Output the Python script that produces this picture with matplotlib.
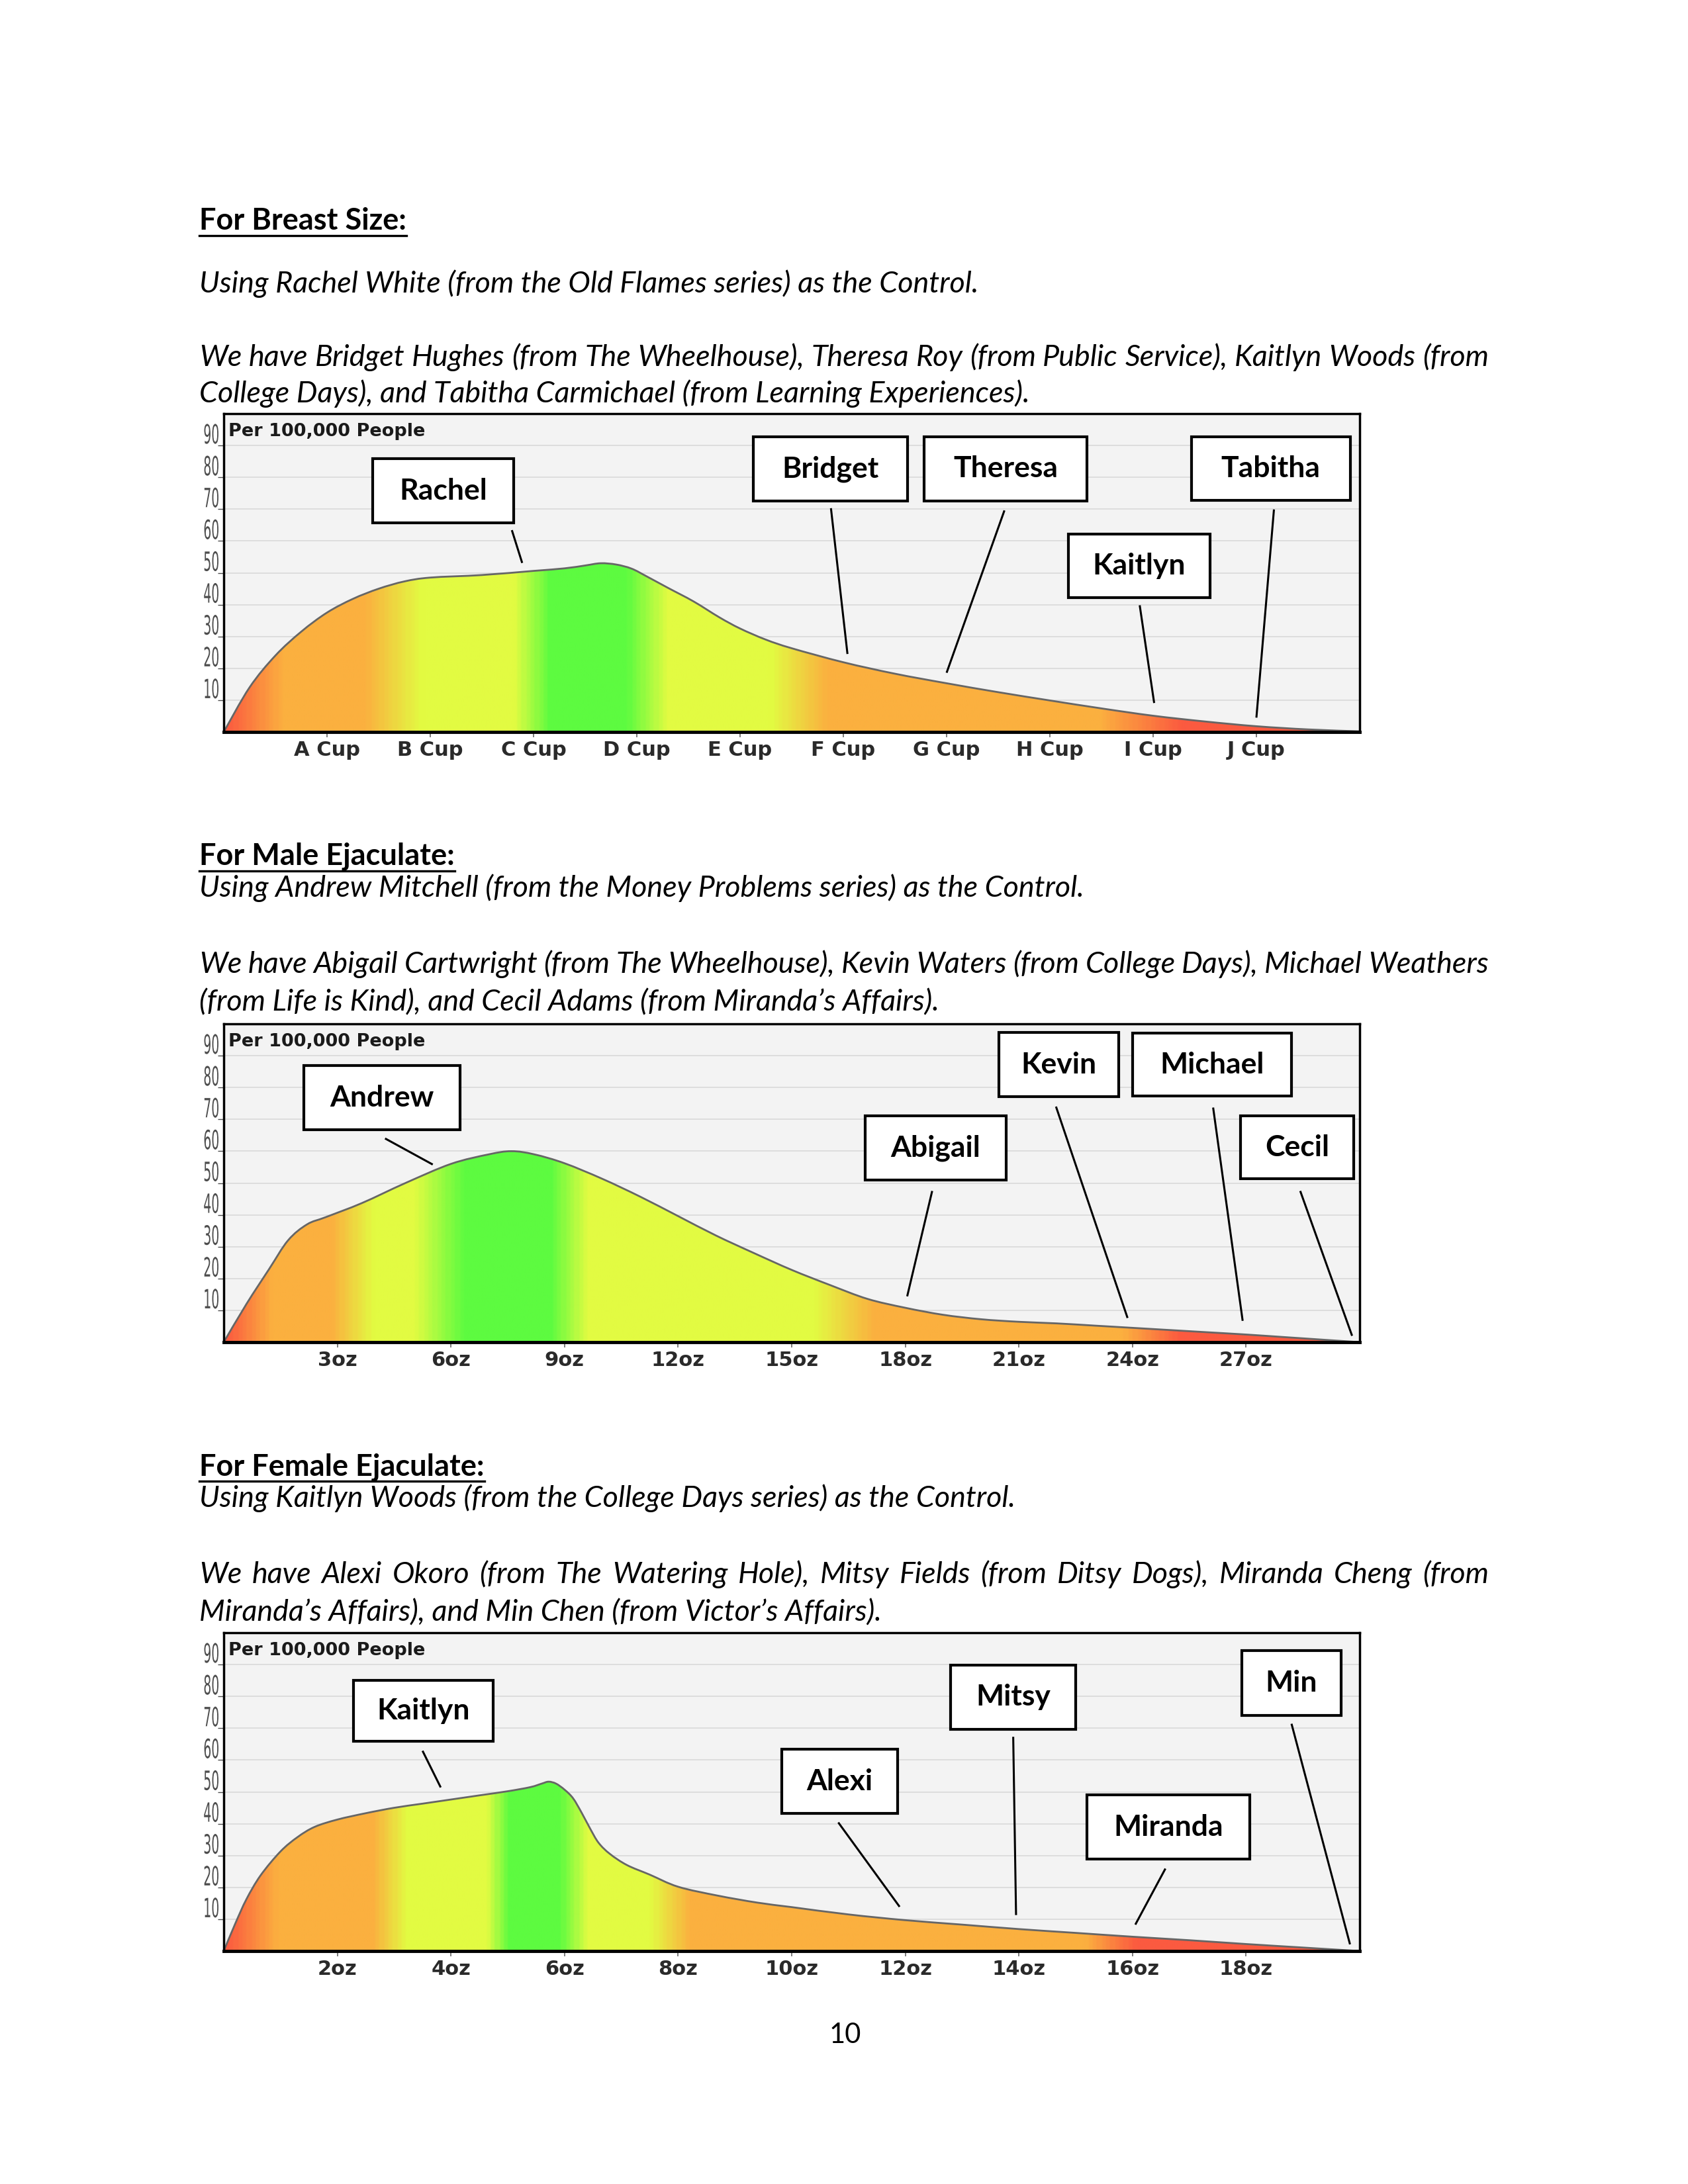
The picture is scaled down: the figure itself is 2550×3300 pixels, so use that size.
import numpy as np
import matplotlib
matplotlib.use("Agg")
import matplotlib.pyplot as plt
from matplotlib.colors import LinearSegmentedColormap
from matplotlib.patches import PathPatch, Rectangle
from matplotlib.path import Path
from matplotlib.lines import Line2D
from matplotlib.textpath import TextPath
from matplotlib.font_manager import FontProperties
from matplotlib.transforms import Affine2D, IdentityTransform

# ---- data ----
breast_x = [0, 0.25, 0.5, 0.75, 1, 1.25, 1.5, 1.75, 2, 2.5, 3, 3.3, 3.5, 3.65, 3.8, 3.95,
            4.1, 4.3, 4.55, 4.8, 5.0, 5.25, 5.5, 6, 6.5, 7, 7.5, 8, 8.5, 9, 9.5, 10, 10.5, 11]
breast_y = [0, 14, 24, 31.5, 37.5, 41.8, 45, 47.3, 48.5, 49.3, 50.6, 51.4, 52.3, 53, 52.6, 51.3,
            48.8, 45.3, 41, 36, 32.5, 29, 26.3, 21.9, 18.3, 15.3, 12.5, 9.9, 7.4, 5.1, 3.3, 1.8, 0.8, 0.2]
breast_ticks = ["A Cup", "B Cup", "C Cup", "D Cup", "E Cup", "F Cup", "G Cup", "H Cup", "I Cup", "J Cup"]

male_x = [0, 0.6, 1.2, 1.7, 2.2, 2.7, 3.65, 4.8, 6, 7, 7.6, 8.2, 9, 10, 11, 12, 13, 14, 15,
          16, 17, 18, 19, 20, 21, 22, 23, 24, 25, 26, 27, 28, 29, 30]
male_y = [0, 12, 23, 32, 37, 39.3, 43.7, 50, 56, 59, 60, 59, 56.2, 51.3, 45.7, 39.6, 33.5, 28, 22.7,
          18, 13.6, 10.8, 8.6, 7.2, 6.4, 5.9, 5.2, 4.5, 3.8, 3.1, 2.4, 1.6, 0.8, 0]
male_ticks = ["3oz", "6oz", "9oz", "12oz", "15oz", "18oz", "21oz", "24oz", "27oz"]

female_x = [0, 0.2, 0.4, 0.65, 1.0, 1.3, 1.6, 2.0, 2.5, 3.0, 3.5, 4.0, 4.5, 5.0, 5.4, 5.6, 5.72,
            5.85, 6.0, 6.15, 6.3, 6.45, 6.6, 6.8, 7.1, 7.5, 8.0, 8.7, 9.4, 10, 11, 12, 13, 14, 15,
            16, 17, 18, 19, 20]
female_y = [0, 8.5, 16.3, 23.8, 31.3, 35.8, 39, 41.3, 43.3, 45, 46.3, 47.6, 48.9, 50.2, 51.5, 52.6, 53.2,
            52.6, 50.7, 48, 43.5, 38.5, 34, 30.5, 27, 24, 20.2, 17.4, 15.2, 13.8, 11.5, 9.7, 8.3, 6.9,
            5.7, 4.5, 3.4, 2.2, 1.1, 0]
female_ticks = ["2oz", "4oz", "6oz", "8oz", "10oz", "12oz", "14oz", "16oz", "18oz"]

breast_names = ["Rachel", "Bridget", "Theresa", "Kaitlyn", "Tabitha"]
male_names = ["Andrew", "Abigail", "Kevin", "Michael", "Cecil"]
female_names = ["Kaitlyn", "Alexi", "Mitsy", "Miranda", "Min"]

# ---- layout of the callouts: box (x0, x1, y0, y1) and pointer (xa, ya, xb, yb) ----
breast_boxes = [(1.44, 2.81, 65.7, 85.8), (5.13, 6.62, 72.6, 92.7), (6.78, 8.36, 72.6, 92.7),
                (8.18, 9.55, 42.3, 62.2), (9.37, 10.91, 72.8, 92.7)]
breast_lines = [(2.79, 63.4, 2.89, 53.1), (5.88, 70.3, 6.04, 24.5), (7.56, 69.6, 7.0, 18.6),
                (8.87, 39.8, 9.01, 9.1), (10.17, 69.9, 10.0, 4.5)]
male_boxes = [(2.12, 6.24, 66.8, 86.8), (16.94, 20.66, 50.9, 71.2), (20.47, 23.63, 77.1, 97.3),
              (24.0, 28.2, 77.4, 97.0), (26.85, 29.84, 51.3, 71.1)]
male_lines = [(4.26, 64.0, 5.52, 55.8), (18.71, 47.5, 18.05, 14.4), (21.98, 74.0, 23.87, 7.6),
              (26.13, 73.7, 26.91, 6.7), (28.43, 47.5, 29.8, 2.0)]
female_boxes = [(2.28, 4.74, 65.9, 85.0), (9.82, 11.87, 43.2, 63.4), (12.8, 15.0, 69.7, 89.9),
                (15.2, 18.06, 28.8, 49.0), (17.92, 19.67, 74.0, 94.3)]
female_lines = [(3.5, 62.9, 3.82, 51.4), (10.82, 40.4, 11.9, 13.9), (13.9, 67.3, 13.95, 11.3),
                (16.58, 25.9, 16.05, 8.3), (18.8, 71.4, 19.83, 2.1)]

RED, ORANGE, YELLOW, GREEN = "#fb5a40", "#fbb03f", "#e2fb42", "#5dfb40"
breast_stops = [(0, RED), (0.55, ORANGE), (1.35, ORANGE), (1.9, YELLOW), (2.8, YELLOW), (3.15, GREEN),
                (3.9, GREEN), (4.3, YELLOW), (5.3, YELLOW), (5.85, ORANGE), (8.5, ORANGE), (9.3, RED), (11, RED)]
male_stops = [(0, RED), (1.2, ORANGE), (2.8, ORANGE), (3.9, YELLOW), (5.0, YELLOW), (6.3, GREEN),
              (8.6, GREEN), (9.6, YELLOW), (15.6, YELLOW), (17.2, ORANGE), (23.8, ORANGE), (25.3, RED), (30, RED)]
female_stops = [(0, RED), (0.9, ORANGE), (2.6, ORANGE), (3.2, YELLOW), (4.6, YELLOW), (5.0, GREEN),
                (5.9, GREEN), (6.4, YELLOW), (7.5, YELLOW), (8.2, ORANGE), (15.2, ORANGE), (16.1, RED), (20, RED)]

W, H = 2550, 3300
BODY = ["Lato", "DejaVu Sans"]


def fx(x):
    return x / W


def fy(y):
    return 1 - y / H


fig = plt.figure(figsize=(25.5, 33), dpi=100)
renderer = fig.canvas.get_renderer()


def heading(y, s):
    t = fig.text(fx(301), fy(y), s, fontsize=32.5, fontweight="bold", family=BODY, va="baseline")
    bb = t.get_window_extent(renderer)
    fig.add_artist(Line2D([bb.x0 / W, bb.x1 / W], [fy(y + 9)] * 2, color="black", lw=2.4))


def body(y, s, justify=False):
    kw = dict(fontsize=32.3, style="italic", family=BODY, va="baseline")
    if not justify:
        fig.text(fx(301), fy(y), s, **kw)
        return
    words = s.split(" ")
    ts = [fig.text(0, fy(y), w, **kw) for w in words]
    widths = [t.get_window_extent(renderer).width for t in ts]
    gap = (2249 - 301 - sum(widths)) / (len(words) - 1)
    x = 301
    for t, w in zip(ts, widths):
        t.set_x(fx(x))
        x += w + gap


def smooth(x, y):
    # bezier path through the read points (catmull-rom handles)
    pts = np.column_stack([x, y])
    verts, codes = [pts[0]], [Path.MOVETO]
    n = len(pts)
    for i in range(n - 1):
        p0, p1, p2, p3 = pts[max(i - 1, 0)], pts[i], pts[i + 1], pts[min(i + 2, n - 1)]
        verts += [p1 + (p2 - p0) / 6, p2 - (p3 - p1) / 6, p2]
        codes += [Path.CURVE4] * 3
    return verts, codes


def narrow_label(ax, s, v):
    # tall condensed tick label: squeeze a text path horizontally
    tp = TextPath((0, 0), s, size=40, prop=FontProperties(family="DejaVu Sans"))
    ext = tp.get_extents()
    sx = 0.47
    x0, _ = ax.transAxes.transform((0, 0))
    _, yv = ax.transData.transform((0, v))
    tr = Affine2D().scale(sx, 1).translate(x0 - 8 - ext.x1 * sx, yv + 3)
    fig.add_artist(PathPatch(tr.transform_path(tp), transform=IdentityTransform(),
                             facecolor="#4d4d4d", edgecolor="none"))


def chart(top, x, y, xmax, ticks, stops, names, boxes, lines):
    ax = fig.add_axes([fx(338), fy(top + 481), 1716 / W, 481 / H])
    ax.set_facecolor("#f3f3f3")

    # gradient area under the curve
    cmap = LinearSegmentedColormap.from_list("g", [(p / xmax, c) for p, c in stops])
    im = ax.imshow(np.linspace(0, 1, 600).reshape(1, -1), cmap=cmap, extent=[0, xmax, 0, 100],
                   aspect="auto", origin="lower", interpolation="bilinear", zorder=1)
    verts, codes = smooth(x, y)
    area = PathPatch(Path(verts + [(x[-1], 0), (0, 0), (0, 0)],
                          codes + [Path.LINETO, Path.LINETO, Path.CLOSEPOLY]),
                     facecolor="none", edgecolor="none")
    ax.add_patch(area)
    im.set_clip_path(area)
    ax.add_patch(PathPatch(Path(verts, codes), facecolor="none", edgecolor="#666666", lw=2, zorder=2))

    ax.set_xlim(0, xmax)
    ax.set_ylim(0, 100)
    ax.set_yticks(range(10, 100, 10))
    ax.tick_params(axis="y", length=6.5, width=1, color="#4d4d4d", labelleft=False)
    for v in range(10, 100, 10):
        narrow_label(ax, str(v), v)
    step = xmax / (len(ticks) + 1)
    ax.set_xticks([step * (i + 1) for i in range(len(ticks))])
    ax.set_xticklabels(ticks, fontsize=22, fontweight="bold", color="#2a2a2a")
    ax.tick_params(axis="x", length=6, width=1.2, color="#666666", pad=3)
    ax.grid(axis="y", color="#d9d9d9", lw=1.2)
    ax.set_axisbelow(True)
    for s in ax.spines.values():
        s.set_linewidth(2.5)
        s.set_color("black")
    ax.spines["bottom"].set_linewidth(3.5)

    ax.text(0.004, 0.929, "Per 100,000 People", transform=ax.transAxes, fontsize=19.5,
            fontweight="bold", color="#1a1a1a", va="baseline", zorder=5)

    for name, (x0, x1, y0, y1), (xa, ya, xb, yb) in zip(names, boxes, lines):
        ax.add_patch(Rectangle((x0, y0), x1 - x0, y1 - y0, facecolor="white",
                               edgecolor="black", lw=3, zorder=6))
        ax.text((x0 + x1) / 2, (y0 + y1) / 2, name, ha="center", va="center", fontsize=32,
                fontweight="bold", family=BODY, zorder=7)
        ax.plot([xa, xb], [ya, yb], color="black", lw=2.2, zorder=6, solid_capstyle="butt")
    return ax


heading(347, "For Breast Size:")
body(442, "Using Rachel White (from the Old Flames series) as the Control.")
body(553, "We have Bridget Hughes (from The Wheelhouse), Theresa Roy (from Public Service), Kaitlyn Woods (from",
     justify=True)
body(608, "College Days), and Tabitha Carmichael (from Learning Experiences).")
chart(625, breast_x, breast_y, 11, breast_ticks, breast_stops, breast_names, breast_boxes, breast_lines)

heading(1307, "For Male Ejaculate:")
body(1355, "Using Andrew Mitchell (from the Money Problems series) as the Control.")
body(1470, "We have Abigail Cartwright (from The Wheelhouse), Kevin Waters (from College Days), Michael Weathers",
     justify=True)
body(1527, "(from Life is Kind), and Cecil Adams (from Miranda\u2019s Affairs).")
chart(1547, male_x, male_y, 30, male_ticks, male_stops, male_names, male_boxes, male_lines)

heading(2229, "For Female Ejaculate:")
body(2277, "Using Kaitlyn Woods (from the College Days series) as the Control.")
body(2392, "We have Alexi Okoro (from The Watering Hole), Mitsy Fields (from Ditsy Dogs), Miranda Cheng (from",
     justify=True)
body(2449, "Miranda\u2019s Affairs), and Min Chen (from Victor\u2019s Affairs).")
chart(2467, female_x, female_y, 20, female_ticks, female_stops, female_names, female_boxes, female_lines)

fig.text(fx(1277), fy(3087), "10", fontsize=30, family=BODY, ha="center", va="baseline")

fig.savefig("out.png", dpi=100, facecolor="white")
